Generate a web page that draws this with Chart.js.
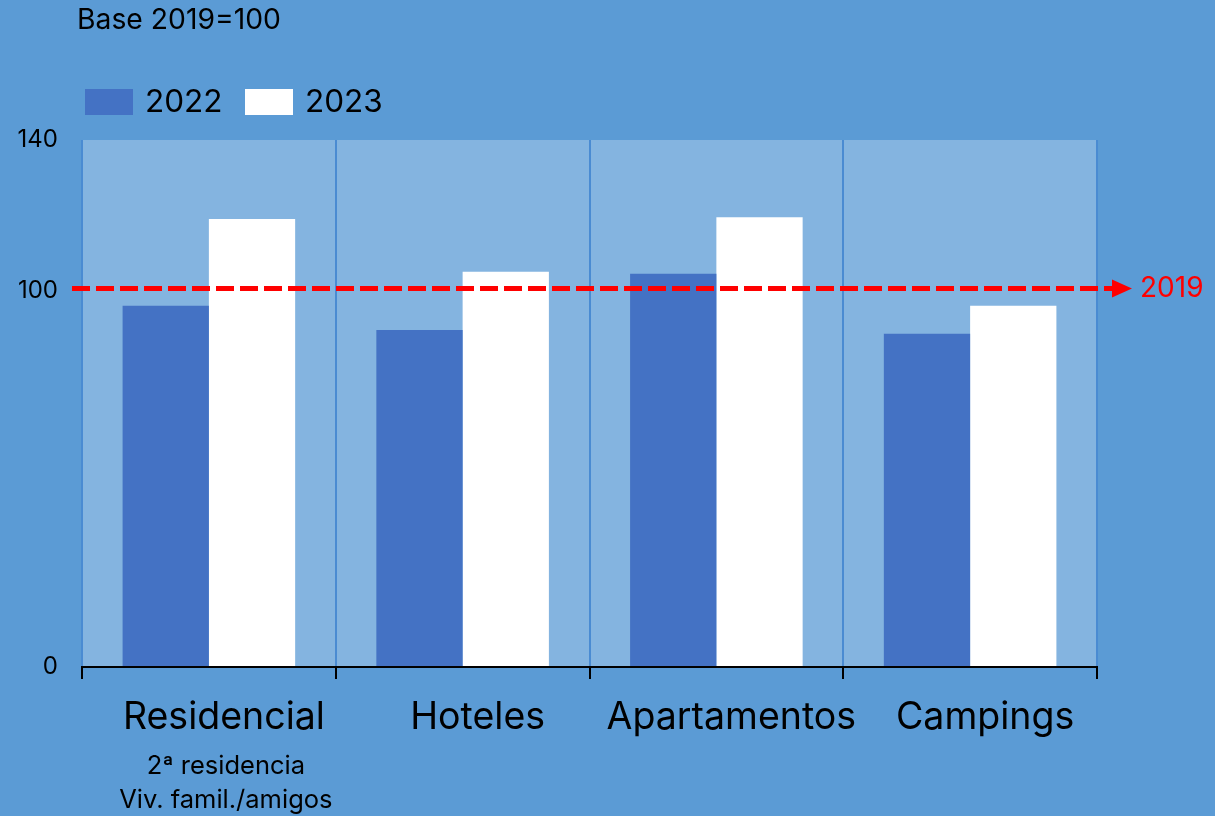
<!DOCTYPE html>
<html>
<head>
<meta charset="utf-8">
<title>Base 2019=100</title>
<script src="https://cdn.jsdelivr.net/npm/chart.js@4.4.1/dist/chart.umd.min.js"></script>
<style>
    html, body { margin: 0; padding: 0; background: #5B9BD5; }
    #wrap { width: 1215px; height: 816px; position: relative; }
</style>
</head>
<body>
<div id="wrap"><canvas id="chart"></canvas></div>
<script>
// ===========================
// Data
// ===========================

const categories = ['Residencial', 'Hoteles', 'Apartamentos', 'Campings'];
const subLabels = ['2ª residencia', 'Viv. famil./amigos'];   // under "Residencial"
const seriesNames = ['2022', '2023'];
const values2022 = [96, 89.5, 104.5, 88.5];
const values2023 = [119, 105, 119.5, 96];
const yTicks = [0, 100, 140];
const baseValue = 100;
const baseLabel = '2019';
const titleText = 'Base 2019=100';

const FONT = 'Inter, "Noto Sans", sans-serif';
const COLOR_2022 = '#4472C4';
const COLOR_2023 = '#FFFFFF';

// ===========================
// Plugins
// ===========================

const plotBackground = {
    id: 'plotBackground',
    beforeDraw(chart) {
        const { ctx, chartArea: a } = chart;
        ctx.save();
        ctx.fillStyle = '#84B4E0';
        ctx.fillRect(a.left, a.top, a.right - a.left, a.bottom - a.top);
        ctx.restore();
    }
};

const overlay = {
    id: 'overlay',
    afterDatasetsDraw(chart) {
        const { ctx, scales } = chart;
        const y = scales.y.getPixelForValue(baseValue) - 2;

        ctx.save();

        // dashed reference line + arrow
        ctx.strokeStyle = '#FF0000';
        ctx.lineWidth = 5;
        ctx.setLineDash([18, 6]);
        ctx.beginPath();
        ctx.moveTo(72, y);
        ctx.lineTo(1114, y);
        ctx.stroke();
        ctx.setLineDash([]);
        ctx.fillStyle = '#FF0000';
        ctx.beginPath();
        ctx.moveTo(1112, y - 9);
        ctx.lineTo(1132, y);
        ctx.lineTo(1112, y + 9);
        ctx.closePath();
        ctx.fill();

        ctx.font = '28px ' + FONT;
        ctx.textBaseline = 'middle';
        ctx.textAlign = 'left';
        ctx.fillText(baseLabel, 1140, y);

        // title
        ctx.fillStyle = '#000000';
        ctx.font = '28.3px ' + FONT;
        ctx.fillText(titleText, 77, 20);

        // legend
        const colors = [COLOR_2022, COLOR_2023];
        const legendX = [85, 245];
        ctx.font = '31.5px ' + FONT;
        seriesNames.forEach((name, i) => {
            ctx.fillStyle = colors[i];
            ctx.fillRect(legendX[i], 89, 48, 26);
            ctx.fillStyle = '#000000';
            ctx.fillText(name, legendX[i] + 60, 103);
        });

        // sub-labels under first category
        const cx = scales.x.getPixelForValue(0) + 17;
        ctx.textAlign = 'center';
        ctx.font = '25.5px ' + FONT;
        subLabels.forEach((txt, i) => {
            ctx.fillText(txt, cx, 766 + i * 34);
        });

        ctx.restore();
    }
};

// ===========================
// Chart
// ===========================

new Chart(document.getElementById('chart'), {
    type: 'bar',
    data: {
        labels: categories,
        datasets: [
            {
                label: seriesNames[0],
                data: values2022,
                backgroundColor: COLOR_2022,
                categoryPercentage: 0.68,
                barPercentage: 1
            },
            {
                label: seriesNames[1],
                data: values2023,
                backgroundColor: COLOR_2023,
                categoryPercentage: 0.68,
                barPercentage: 1
            }
        ]
    },
    options: {
        responsive: true,
        maintainAspectRatio: false,
        animation: false,
        layout: {
            padding: { top: 140, right: 118, left: 0, bottom: 0 }
        },
        plugins: {
            legend: { display: false },
            title: { display: false },
            tooltip: { enabled: false }
        },
        scales: {
            x: {
                offset: true,
                afterFit(scale) { scale.height = 149; },
                border: { display: true, color: '#000000', width: 2, z: 1 },
                grid: {
                    display: true,
                    offset: true,
                    color: '#4A8BD2',
                    lineWidth: 2,
                    tickColor: '#000000',
                    tickLength: 12,
                    drawTicks: true
                },
                ticks: {
                    color: '#000000',
                    font: { family: FONT, size: 37.5 },
                    padding: 16,
                    labelOffset: 15,
                    maxRotation: 0
                }
            },
            y: {
                min: 0,
                max: 140,
                afterFit(scale) { scale.width = 82; },
                afterBuildTicks(scale) {
                    scale.ticks = yTicks.map(v => ({ value: v }));
                },
                border: { display: false },
                grid: { display: false, drawTicks: false },
                ticks: {
                    color: '#000000',
                    font: { family: FONT, size: 24 },
                    padding: 24
                }
            }
        }
    },
    plugins: [plotBackground, overlay]
});
</script>
</body>
</html>
